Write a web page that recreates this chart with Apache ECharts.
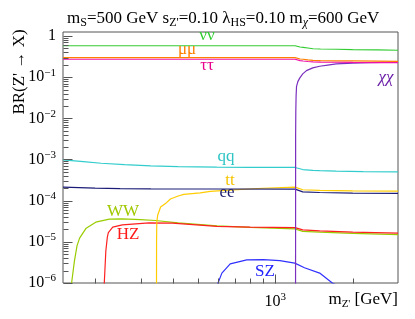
<!DOCTYPE html>
<html>
<head>
<meta charset="utf-8">
<script src="https://cdn.jsdelivr.net/npm/echarts@6/dist/echarts.min.js"></script>
<style>html,body{margin:0;padding:0;background:#fff}#c{width:415px;height:319px}</style>
</head>
<body>
<div id="c"></div>
<script>
// ---- data (m_Z' in GeV, branching ratio) ----
const nunuM  = [150, 1195, 1200, 1205, 1215, 1250, 1284, 1340, 1403, 1500, 1728, 2000, 2500, 3000];
const nunuBR = [0.58, 0.58, 0.58, 0.565, 0.55, 0.54, 0.53, 0.51, 0.49, 0.483, 0.476, 0.468, 0.458, 0.45];

const mumuM  = [150, 1195, 1200, 1205, 1215, 1250, 1284, 1340, 1403, 1500, 1728, 2000, 2500, 3000];
const mumuBR = [0.297, 0.297, 0.297, 0.289, 0.282, 0.276, 0.272, 0.263, 0.256, 0.253, 0.25, 0.248, 0.245, 0.243];

const tautauM  = [150, 1195, 1200, 1205, 1215, 1250, 1284, 1340, 1403, 1500, 1728, 2000, 2500, 3000];
const tautauBR = [0.272, 0.272, 0.272, 0.264, 0.258, 0.252, 0.247, 0.24, 0.235, 0.232, 0.23, 0.228, 0.226, 0.225];

const chichiM  = [1200, 1201, 1203, 1206, 1211, 1225, 1247, 1280, 1323, 1400, 1489, 1600, 1727, 2000, 2321, 2600, 3000];
const chichiBR = [1e-7, 0.004, 0.015, 0.035, 0.06, 0.078, 0.096, 0.12, 0.144, 0.168, 0.184, 0.197, 0.21, 0.219, 0.225, 0.228, 0.23];

const qqM  = [150, 180, 211, 260, 329, 420, 594, 800, 1195, 1200, 1211, 1280, 1400, 1489, 1728, 2200, 3000];
const qqBR = [9.8e-4, 8.9e-4, 8.1e-4, 7.5e-4, 7.0e-4, 6.7e-4, 6.5e-4, 6.45e-4, 6.4e-4, 6.4e-4, 6.0e-4, 5.7e-4, 5.45e-4, 5.37e-4, 5.2e-4, 5.1e-4, 5.0e-4];

const eeM  = [150, 200, 250, 329, 600, 1195, 1200, 1211, 1280, 1489, 2000, 3000];
const eeBR = [2.13e-4, 2.02e-4, 1.97e-4, 1.93e-4, 1.92e-4, 1.91e-4, 1.91e-4, 1.75e-4, 1.64e-4, 1.58e-4, 1.53e-4, 1.5e-4];

const ttM  = [346, 346.3, 347, 350, 359, 375, 392, 420, 442, 512, 560, 687, 900, 1195, 1200, 1211, 1280, 1489, 2000, 3000];
const ttBR = [1e-7, 1e-5, 3e-5, 4.5e-5, 7e-5, 8.5e-5, 1.1e-4, 1.3e-4, 1.42e-4, 1.55e-4, 1.68e-4, 1.83e-4, 2.0e-4, 2.13e-4, 2.13e-4, 1.95e-4, 1.84e-4, 1.78e-4, 1.73e-4, 1.7e-4];

const wwM  = [160.8, 162, 166, 170, 174, 184.5, 201, 227, 255, 300, 343, 420, 594, 800, 1195, 1200, 1211, 1280, 1489, 2000, 3000];
const wwBR = [1e-7, 1e-6, 3.3e-6, 8e-6, 1.23e-5, 2.15e-5, 3.0e-5, 3.56e-5, 3.6e-5, 3.45e-5, 3.3e-5, 2.9e-5, 2.45e-5, 2.25e-5, 2.07e-5, 2.07e-5, 1.9e-5, 1.8e-5, 1.72e-5, 1.6e-5, 1.5e-5];

const hzM  = [216.2, 217, 220, 223, 225, 234, 255, 324, 399, 594, 800, 1195, 1200, 1211, 1280, 1489, 2000, 3000];
const hzBR = [1e-7, 1e-6, 6e-6, 1.3e-5, 1.68e-5, 2.27e-5, 2.59e-5, 2.9e-5, 2.85e-5, 2.37e-5, 2.28e-5, 2.22e-5, 2.22e-5, 2.05e-5, 1.95e-5, 1.85e-5, 1.72e-5, 1.63e-5];

const szM  = [591, 600, 621, 669, 776, 900, 1043, 1192, 1200, 1300, 1489, 1667, 1900];
const szBR = [1e-7, 1e-6, 1.74e-6, 2.92e-6, 3.65e-6, 3.7e-6, 3.5e-6, 3.04e-6, 2.95e-6, 2.35e-6, 1.74e-6, 1e-6, 6.6e-7];

// ---- axes ----
const X_MIN = 150, X_MAX = 3000;
const Y_MIN = 1e-6, Y_MAX = 1.25;
const xMajorTicks = [1000];
const xMinorTicks = [200, 300, 400, 500, 600, 700, 800, 900, 2000];
const yMajorTicks = [1e-6, 1e-5, 1e-4, 1e-3, 1e-2, 1e-1, 1];
const yMinorMultipliers = [2, 3, 4, 5, 6, 7, 8, 9];

const FONT = 'Liberation Serif';
const AXIS_COLOR = '#555';

const zip = (a, b) => a.map((v, i) => [v, b[i]]);

const yMinorTicks = [];
yMajorTicks.slice(0, -1).forEach(d => yMinorMultipliers.forEach(k => yMinorTicks.push(d * k)));

const xTickData = xMajorTicks.map(v => [v, Y_MIN, 9]).concat(xMinorTicks.map(v => [v, Y_MIN, 5]));
const yTickData = yMajorTicks.map(v => [X_MIN, v, 9]).concat(yMinorTicks.map(v => [X_MIN, v, 5]));

function lineSeries(name, m, br, color) {
  return {
    name, type: 'line', data: zip(m, br), showSymbol: false, symbol: 'none',
    lineStyle: { color, width: 1.2 }, z: 3, clip: true, silent: true
  };
}

function tickSeries(data, vertical) {
  return {
    type: 'custom', data, encode: { x: 0, y: 1 }, z: 5, silent: true, clip: false,
    renderItem: (params, api) => {
      const p = api.coord([api.value(0), api.value(1)]);
      const len = api.value(2);
      const x = Math.round(p[0]) + 0.5, y = Math.round(p[1]) + 0.5;
      const shape = vertical
        ? { x1: x, y1: y, x2: x, y2: y - len }
        : { x1: x, y1: y, x2: x + len, y2: y };
      return { type: 'line', shape, style: { stroke: AXIS_COLOR, lineWidth: 1 } };
    }
  };
}

const supRich = {
  n: { fontFamily: FONT, fontSize: 16, color: '#000' },
  s: { fontFamily: FONT, fontSize: 11, color: '#000', padding: [0, 0, 9, 0] }
};

function logLabel(v) {
  const l = Math.log10(v);
  const e = Math.round(l);
  if (Math.abs(l - e) > 1e-6) return '';
  if (e === 0) return '{n|1}';
  return '{n|10}{s|' + String(e).replace('-', '\u2212') + '}';
}

const labels = [
  { t: '\u03bd\u03bd', x: 207, y: 36, c: '#2ecc2e', i: false },
  { t: '\u03bc\u03bc', x: 187, y: 50, c: '#ff7f00', i: false },
  { t: '\u03c4\u03c4', x: 207, y: 66, c: '#e8008a', i: false },
  { t: '\u03c7\u03c7', x: 386, y: 78, c: '#6b1fa8', i: true },
  { t: 'qq', x: 226, y: 157, c: '#2ec4c4', i: false },
  { t: 'tt', x: 230, y: 181, c: '#f5c400', i: false },
  { t: 'ee', x: 227, y: 193, c: '#1a1a6b', i: false },
  { t: 'WW', x: 123, y: 212, c: '#a0c800', i: false },
  { t: 'HZ', x: 128, y: 235, c: '#ff1a1a', i: false },
  { t: 'SZ', x: 265, y: 272, c: '#2222ff', i: false }
];

const chart = echarts.init(document.getElementById('c'), null, { renderer: 'canvas' });
chart.setOption({
  animation: false,
  backgroundColor: '#fff',
  title: {
    text: 'm{sub|S}=500 GeV s{sub|Z\'}=0.10 \u03bb{sub|HS}=0.10 m{subi|\u03c7}=600 GeV',
    left: 62, top: 4,
    textStyle: {
      fontFamily: FONT, fontSize: 17, fontWeight: 'normal', color: '#000',
      rich: {
        sub: { fontFamily: FONT, fontSize: 12, color: '#000', padding: [8, 0, 0, 0] },
        subi: { fontFamily: FONT, fontStyle: 'italic', fontSize: 12, color: '#000', padding: [8, 0, 0, 0] }
      }
    }
  },
  grid: { left: 63, right: 17, top: 32, bottom: 36, show: true, borderColor: AXIS_COLOR, borderWidth: 1, backgroundColor: 'transparent' },
  xAxis: {
    type: 'log', logBase: 10, min: X_MIN, max: X_MAX,
    axisLine: { show: false }, axisTick: { show: false }, splitLine: { show: false }, minorTick: { show: false },
    axisLabel: { formatter: logLabel, margin: 9, rich: supRich, showMinLabel: true, showMaxLabel: true, hideOverlap: false }
  },
  yAxis: {
    type: 'log', logBase: 10, min: Y_MIN, max: Y_MAX,
    axisLine: { show: false }, axisTick: { show: false }, splitLine: { show: false }, minorTick: { show: false },
    axisLabel: { formatter: logLabel, margin: 7, rich: supRich, showMinLabel: true, showMaxLabel: true, hideOverlap: false }
  },
  graphic: [
    {
      type: 'text', x: 20, y: 72, rotation: Math.PI / 2,
      style: { text: 'BR(Z\' \u2192 X)', fontFamily: FONT, fontSize: 17, fill: '#000', align: 'center', verticalAlign: 'middle' }
    },
    {
      type: 'text', x: 398, y: 300,
      style: {
        text: 'm{s|Z\'} [GeV]', fontFamily: FONT, fontSize: 17, fill: '#000', align: 'right', verticalAlign: 'middle',
        rich: { s: { fontFamily: FONT, fontSize: 11, fill: '#000', padding: [8, 0, 0, 0] } }
      }
    }
  ].concat(labels.map(l => ({
    type: 'text', x: l.x, y: l.y, z: 10,
    style: { text: l.t, fontFamily: FONT, fontStyle: l.i ? 'italic' : 'normal', fontSize: 17, fill: l.c, align: 'center', verticalAlign: 'middle' }
  }))),
  series: [
    lineSeries('WW', wwM, wwBR, '#99cc00'),
    lineSeries('HZ', hzM, hzBR, '#ff2020'),
    lineSeries('SZ', szM, szBR, '#3030ff'),
    lineSeries('tt', ttM, ttBR, '#ffcc00'),
    lineSeries('ee', eeM, eeBR, '#1c1c78'),
    lineSeries('qq', qqM, qqBR, '#33cccc'),
    lineSeries('chichi', chichiM, chichiBR, '#7b2fbe'),
    lineSeries('nunu', nunuM, nunuBR, '#33cc33'),
    lineSeries('mumu', mumuM, mumuBR, '#ff8000'),
    lineSeries('tautau', tautauM, tautauBR, '#ee11aa'),
    tickSeries(xTickData, true),
    tickSeries(yTickData, false)
  ]
});
</script>
</body>
</html>
